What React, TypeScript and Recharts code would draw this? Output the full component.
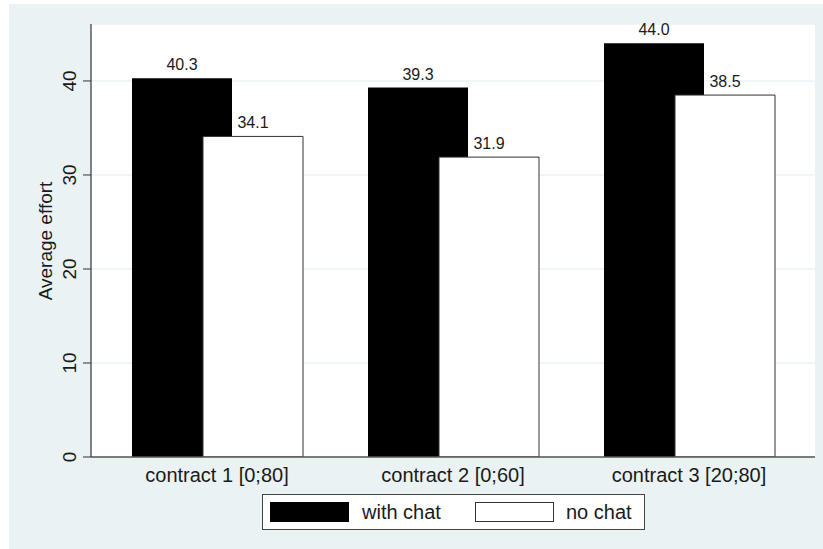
import React from "react";
import { BarChart, Bar, XAxis, YAxis, CartesianGrid, LabelList } from "recharts";

const categories = ["contract 1 [0;80]", "contract 2 [0;60]", "contract 3 [20;80]"];
const withChat = [40.3, 39.3, 44.0];
const noChat = [34.1, 31.9, 38.5];
const yTicks = [0, 10, 20, 30, 40];
const seriesNames = ["with chat", "no chat"];

const data = categories.map((c, i) => ({ name: c, withChat: withChat[i], noChat: noChat[i] }));

const FONT = "'Liberation Sans', Arial, Helvetica, sans-serif";
const BG = "#eaf2f3";

const YTick = (props: any) => {
  const { y, payload } = props;
  const x = 60.5;
  return (
    <text
      x={x}
      y={y}
      transform={`rotate(-90 ${x} ${y})`}
      textAnchor="middle"
      dominantBaseline="central"
      fontSize={19}
      fontFamily={FONT}
      fill="#1a1a1a"
    >
      {payload.value}
    </text>
  );
};

const XTick = (props: any) => {
  const { x, payload } = props;
  return (
    <text
      x={x}
      y={471}
      textAnchor="middle"
      dominantBaseline="central"
      fontSize={20}
      fontFamily={FONT}
      fill="#1a1a1a"
    >
      {payload.value}
    </text>
  );
};

const YLabel = () => (
  <text
    x={36}
    y={237}
    transform="rotate(-90 36 237)"
    textAnchor="middle"
    dominantBaseline="central"
    fontSize={19}
    fontFamily={FONT}
    fill="#1a1a1a"
  >
    Average effort
  </text>
);

const fmt = (v: any) => Number(v).toFixed(1);

export default function App() {
  return (
    <div style={{ position: "absolute", left: 9, top: 4, width: 814, height: 545, background: BG }}>
      <BarChart
        width={814}
        height={545}
        data={data}
        margin={{ top: 20, right: 8, bottom: 52, left: 12 }}
        barSize={100}
        barGap={-29}
      >
        <CartesianGrid horizontal vertical={false} stroke={BG} strokeWidth={1.5} fill="#ffffff" fillOpacity={1} />
        <XAxis
          dataKey="name"
          height={40}
          padding={{ left: 8, right: 8 }}
          tickLine={false}
          axisLine={{ stroke: "#555", strokeWidth: 1.5 }}
          tick={<XTick />}
          interval={0}
        />
        <YAxis
          width={70}
          domain={[0, 46.06]}
          ticks={yTicks}
          allowDataOverflow
          tickSize={8}
          tickLine={{ stroke: "#333" }}
          axisLine={{ stroke: "#333", strokeWidth: 1.2 }}
          tick={<YTick />}
          label={<YLabel />}
        />
        <Bar dataKey="withChat" name={seriesNames[0]} fill="#000000" isAnimationActive={false}>
          <LabelList dataKey="withChat" position="top" offset={8} fontSize={16} fontFamily={FONT} fill="#1a1a1a" formatter={fmt} />
        </Bar>
        <Bar dataKey="noChat" name={seriesNames[1]} fill="#ffffff" stroke="#333" strokeWidth={1} isAnimationActive={false}>
          <LabelList dataKey="noChat" position="top" offset={8} fontSize={16} fontFamily={FONT} fill="#1a1a1a" formatter={fmt} />
        </Bar>
      </BarChart>
      <div
        style={{
          position: "absolute",
          left: 253,
          top: 490,
          width: 381,
          height: 34,
          border: "1px solid #444",
          background: "#fff",
          fontFamily: FONT,
          fontSize: 20,
          color: "#1a1a1a",
        }}
      >
        <div style={{ position: "absolute", left: 7, top: 7, width: 79, height: 20, background: "#000" }} />
        <div style={{ position: "absolute", left: 99, top: 0, lineHeight: "34px" }}>{seriesNames[0]}</div>
        <div style={{ position: "absolute", left: 212, top: 7, width: 77, height: 18, background: "#fff", border: "1px solid #333" }} />
        <div style={{ position: "absolute", left: 303, top: 0, lineHeight: "34px" }}>{seriesNames[1]}</div>
      </div>
    </div>
  );
}
